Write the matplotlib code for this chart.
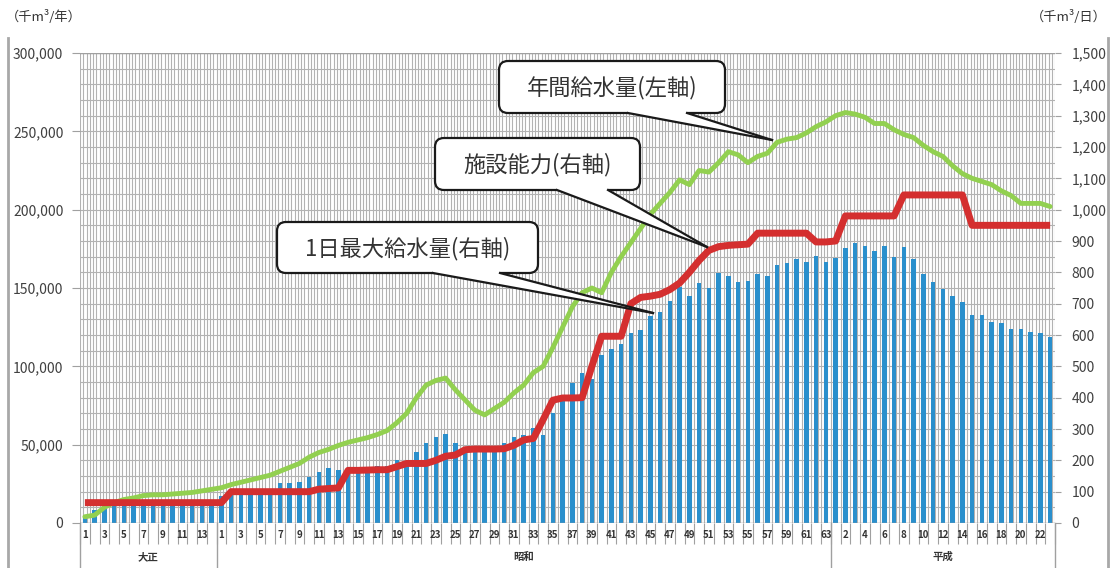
import numpy as np
import matplotlib
matplotlib.use('Agg')
import matplotlib.pyplot as plt
from matplotlib.patches import FancyBboxPatch, Polygon
from matplotlib.lines import Line2D
from matplotlib.transforms import Affine2D
from matplotlib.ticker import FuncFormatter

plt.rcParams['font.family'] = ['Noto Sans CJK JP', 'DejaVu Sans']

## categories: era names and number of years shown per era
eras = ['大正', '昭和', '平成']
era_years = [14, 63, 23]

## 年間給水量 (千m3/年) - left axis
annual = [
    # 大正 1-14
    4000, 5000, 10000, 13000, 15000, 16000, 17500, 18000, 18000, 18500,
    19000, 19500, 20500, 21500,
    # 昭和 1-63
    22500, 24500, 26000, 27500, 29000, 30500, 33000, 35500, 38000, 42000,
    45000, 47000, 49500, 51500, 53000, 54500, 56500, 59000, 64000, 70000,
    80000, 88000, 91000, 92500, 85000, 78500, 72000, 69000, 73000, 77000,
    83000, 88000, 96000, 100000, 112000, 125000, 138000, 147000, 150000, 147000,
    160000, 170000, 179000, 188000, 197000, 204000, 211000, 219000, 216000, 225000,
    224000, 230000, 237000, 235000, 230000, 234000, 236000, 243000, 245000, 246000,
    249000, 253000, 256000,
    # 平成 1-23
    260000, 262000, 261000, 259000, 255000, 255000, 251000, 248000, 246000, 241000,
    237000, 234000, 228000, 223000, 220000, 218000, 216000, 212000, 209000, 204000,
    204000, 204000, 202000,
]

## 施設能力 (千m3/日) - right axis
capacity = [
    # 大正 1-14
    65, 65, 65, 65, 65, 65, 65, 65, 65, 65,
    65, 65, 65, 65,
    # 昭和 1-63
    65, 100, 100, 100, 100, 100, 100, 100, 100, 100,
    108, 110, 112, 168, 168, 169, 170, 170, 180, 190,
    190, 190, 200, 213, 217, 234, 236, 236, 236, 237,
    248, 265, 270, 330, 392, 399, 399, 400, 500, 596,
    596, 596, 700, 720, 724, 730, 745, 766, 800, 838,
    870, 882, 886, 888, 890, 925, 925, 925, 925, 925,
    925, 897, 897,
    # 平成 1-23
    900, 980, 980, 980, 980, 980, 980, 1047, 1047, 1047,
    1047, 1047, 1047, 1047, 950, 950, 950, 950, 950, 950,
    950, 950, 950,
]

## 1日最大給水量 (千m3/日) - right axis
daily_max = [
    # 大正 1-14
    15, 40, 55, 57, 58, 58, 60, 60, 60, 61,
    60, 62, 62, 63,
    # 昭和 1-63
    85, 95, 98, 100, 100, 100, 128, 128, 131, 147,
    163, 176, 169, 165, 168, 172, 182, 183, 201, 185,
    227, 255, 274, 284, 255, 239, 228, 228, 235, 255,
    274, 281, 302, 280, 351, 409, 447, 479, 460, 536,
    555, 571, 606, 616, 661, 674, 709, 753, 724, 765,
    750, 798, 788, 769, 772, 794, 788, 823, 830, 842,
    833, 852, 833,
    # 平成 1-23
    846, 877, 893, 884, 868, 884, 849, 881, 842, 794,
    770, 747, 725, 706, 663, 663, 642, 637, 619, 619,
    610, 606, 594,
]

labels = [str(k) for n in era_years for k in range(1, n + 1)]

W, H = 1112, 568
fig = plt.figure(figsize=(W / 100, H / 100), dpi=100)
# pixel coords, origin top-left like the picture
px = Affine2D().scale(1, -1).translate(0, H) + Affine2D().scale(1 / fig.dpi) + fig.dpi_scale_trans

axb = fig.add_axes([80 / W, 1 - 523 / H, 975 / W, 470 / H])
axg = axb.twinx()
axr = axb.twinx()
axb.yaxis.tick_right()
axg.yaxis.tick_left()
axr.yaxis.set_visible(False)

x = np.arange(len(annual))
n = len(x)

axb.bar(x, daily_max, width=0.44, color='#2a8fcc', zorder=2)
axg.plot(x, annual, color='#92d050', lw=3.5, solid_joinstyle='round', solid_capstyle='round')
axr.plot(x, capacity, color='#d42f2f', lw=5, solid_joinstyle='round', solid_capstyle='butt')

for a in (axb, axg, axr):
    a.set_xlim(-0.5, n - 0.5)
    for s in a.spines.values():
        s.set_visible(False)
axb.set_ylim(0, 1500)
axr.set_ylim(0, 1500)
axg.set_ylim(0, 300000)

fmt = FuncFormatter(lambda v, p: f'{int(v):,}')
axb.set_yticks(np.arange(0, 1501, 100))
axb.set_yticks(np.arange(50, 1500, 100), minor=True)
axb.yaxis.set_major_formatter(fmt)
axg.set_yticks(np.arange(0, 300001, 50000))
axg.yaxis.set_major_formatter(fmt)

axb.tick_params(axis='y', which='major', length=4, color='#a0a0a0', labelsize=10,
                labelcolor='#404040', pad=8)
axb.tick_params(axis='y', which='minor', length=0)
axg.tick_params(axis='y', length=6, color='#a0a0a0', labelsize=10, labelcolor='#404040', pad=6)

# category boundaries as major ticks, thirds as minor gridlines
axb.set_xticks(np.arange(-0.5, n, 1))
thirds = np.arange(-0.5, n - 0.4, 1 / 3)
axb.set_xticks([t for t in thirds if abs(t - round(t - 0.5) - 0.5) > 0.01], minor=True)
axb.tick_params(axis='x', which='major', length=15, color='#a0a0a0', labelbottom=False)
axb.tick_params(axis='x', which='minor', length=0)
axb.set_axisbelow(True)
axb.grid(True, which='both', color='#b2b2b2', lw=0.8)

# frame
axb.axhline(0, color='#a0a0a0', lw=1, zorder=3)
axb.axhline(1500, color='#a0a0a0', lw=1, zorder=3)

xt = axb.get_xaxis_transform()
for i in range(0, n, 2):
    axb.text(i, -0.0255, labels[i], transform=xt, ha='center', va='center',
             fontsize=7, color='#333333', fontweight='bold')

bounds = np.cumsum([0] + era_years) - 0.5
for b in bounds:
    axb.plot([b, b], [0, -0.096], transform=xt, color='#a0a0a0', lw=1, clip_on=False)
for k, era in enumerate(eras):
    axb.text((bounds[k] + bounds[k + 1]) / 2, -0.072, era, transform=xt, ha='center',
             va='center', fontsize=7.5, color='#333333', fontweight='bold')

# units
fig.text(6, 17, '（千m³/年）', transform=px, fontsize=9.5, va='center', color='#333333')
fig.text(1107, 17, '（千m³/日）', transform=px, fontsize=9.5, va='center', ha='right', color='#333333')

# chart border
fig.add_artist(Line2D([8, 8], [38, 568], transform=px, color='#a8a8a8', lw=2))
fig.add_artist(Line2D([1108, 1108], [38, 568], transform=px, color='#a8a8a8', lw=2))

# callouts: box (x0, y0, x1, y1), tail base x's, tip
callouts = [
    ('年間給水量(左軸)', (499, 61, 725, 113), (628, 687), (772, 140)),
    ('施設能力(右軸)', (435, 138, 640, 190), (557, 608), (707, 247)),
    ('1日最大給水量(右軸)', (277, 222, 538, 273), (433, 500), (653, 313)),
]
for txt, (x0, y0, x1, y1), (b1, b2), tip in callouts:
    box = FancyBboxPatch((x0, y0), x1 - x0, y1 - y0, boxstyle='round,pad=0,rounding_size=9',
                         transform=px, fc='white', ec='#1a1a1a', lw=1.6, zorder=5)
    fig.add_artist(box)
    tail = Polygon([(b1, y1 - 3), (b1, y1), tip, (b2, y1), (b2, y1 - 3)], closed=True,
                   transform=px, fc='white', ec='none', zorder=6)
    fig.add_artist(tail)
    for b in (b1, b2):
        fig.add_artist(Line2D([b, tip[0]], [y1, tip[1]], transform=px, color='#1a1a1a',
                              lw=1.6, zorder=7))
    fig.text((x0 + x1) / 2, (y0 + y1) / 2 + 1, txt, transform=px, ha='center', va='center',
             fontsize=16, color='#333333', zorder=8)

fig.savefig('out.png', dpi=100)
